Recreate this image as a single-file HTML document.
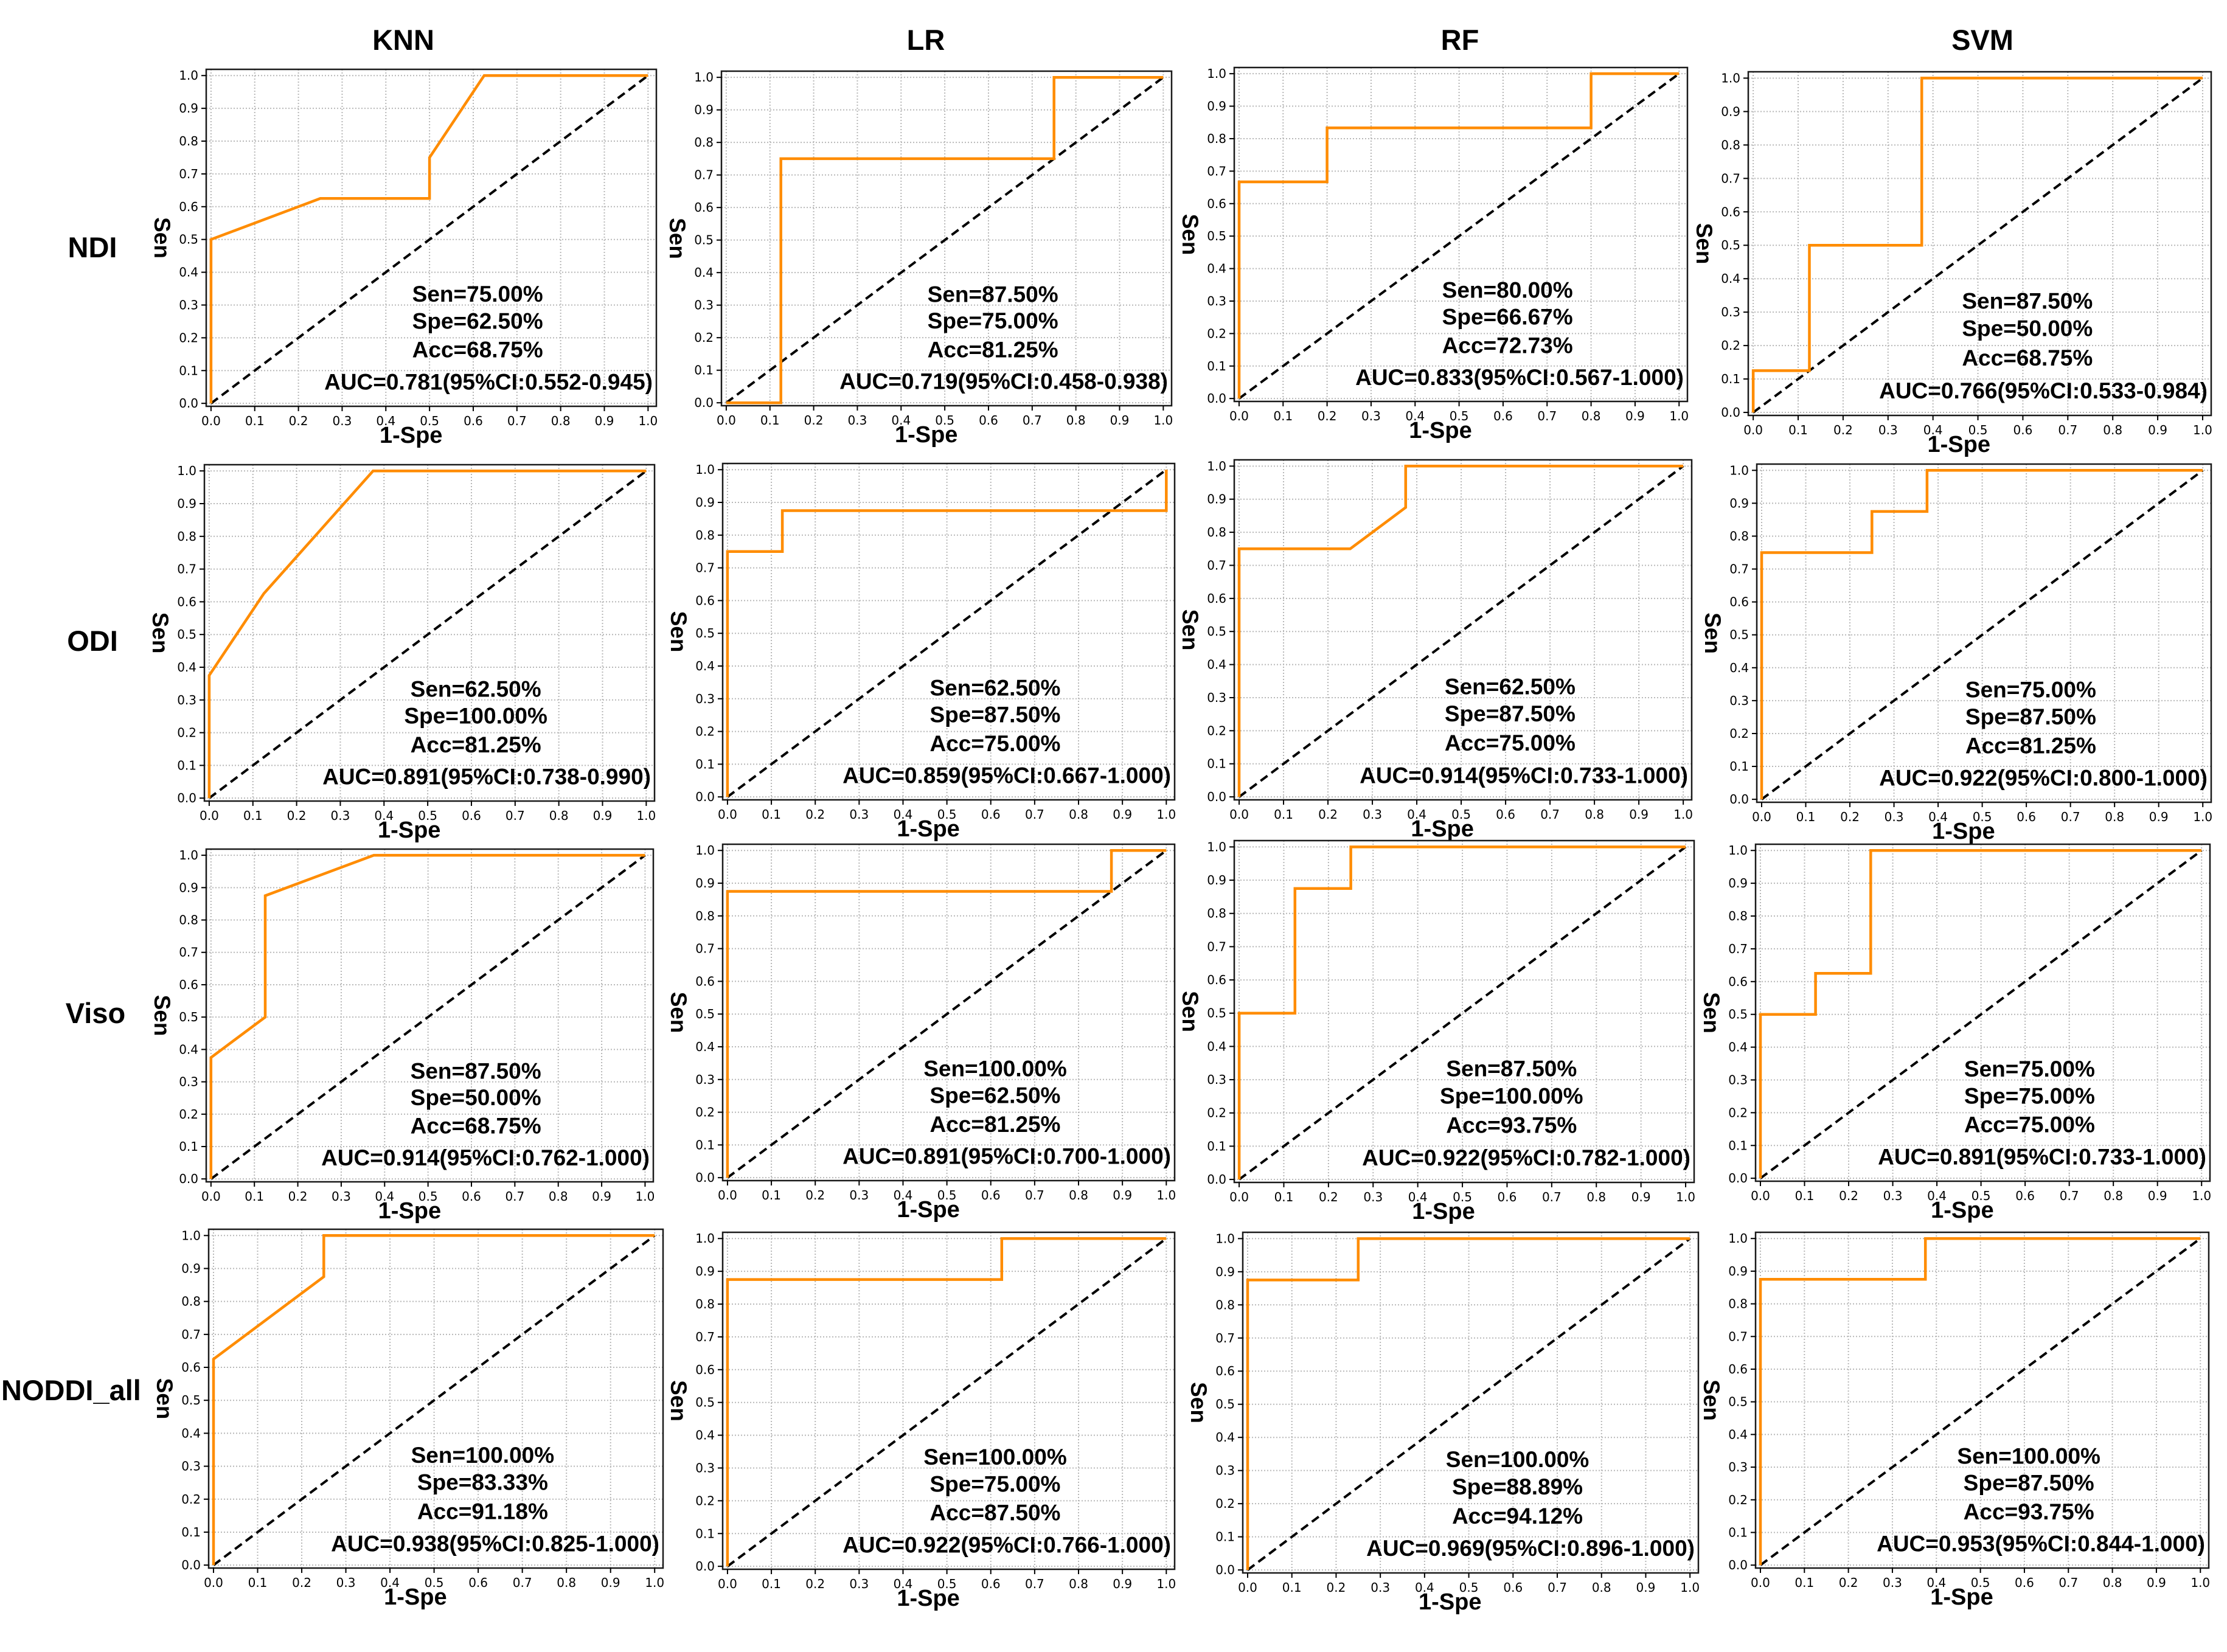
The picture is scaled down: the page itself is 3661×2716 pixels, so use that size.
<!DOCTYPE html>
<html><head><meta charset="utf-8">
<style>
html,body{margin:0;padding:0;background:#fff;}
svg{display:block;}
</style></head>
<body>
<svg id="fig" xmlns="http://www.w3.org/2000/svg" width="3661" height="2716" viewBox="0 0 3661 2716">
<rect x="0" y="0" width="3661" height="2716" fill="#fff"/>
</svg>
<script>
// ---- data ----
const colNames = ["KNN","LR","RF","SVM"];
const rowNames = ["NDI","ODI","Viso","NODDI_all"];
const fprData = [
 [0,0,0.25,0.5,0.5,0.625,1],
 [0,0.125,0.125,0.75,0.75,1],
 [0,0,0.2,0.2,0.8,0.8,1],
 [0,0,0.125,0.125,0.375,0.375,1],
 [0,0,0.125,0.375,1],
 [0,0,0.125,0.125,1,1],
 [0,0,0.25,0.375,0.375,1],
 [0,0,0.25,0.25,0.375,0.375,1],
 [0,0,0.125,0.125,0.375,1],
 [0,0,0.875,0.875,1],
 [0,0,0.125,0.125,0.25,0.25,1],
 [0,0,0.125,0.125,0.25,0.25,1],
 [0,0,0.25,0.25,1],
 [0,0,0.625,0.625,1],
 [0,0,0.25,0.25,1],
 [0,0,0.375,0.375,1]
];
const tprData = [
 [0,0.5,0.625,0.625,0.75,1,1],
 [0,0,0.75,0.75,1,1],
 [0,0.667,0.667,0.833,0.833,1,1],
 [0,0.125,0.125,0.5,0.5,1,1],
 [0,0.375,0.625,1,1],
 [0,0.75,0.75,0.875,0.875,1],
 [0,0.75,0.75,0.875,1,1],
 [0,0.75,0.75,0.875,0.875,1,1],
 [0,0.375,0.5,0.875,1,1],
 [0,0.875,0.875,1,1],
 [0,0.5,0.5,0.875,0.875,1,1],
 [0,0.5,0.5,0.625,0.625,1,1],
 [0,0.625,0.875,1,1],
 [0,0.875,0.875,1,1],
 [0,0.875,0.875,1,1],
 [0,0.875,0.875,1,1]
];
const senText = ["75.00","87.50","80.00","87.50","62.50","62.50","62.50","75.00","87.50","100.00","87.50","75.00","100.00","100.00","100.00","100.00"];
const speText = ["62.50","75.00","66.67","50.00","100.00","87.50","87.50","87.50","50.00","62.50","100.00","75.00","83.33","75.00","88.89","87.50"];
const accText = ["68.75","81.25","72.73","68.75","81.25","75.00","75.00","81.25","68.75","81.25","93.75","75.00","91.18","87.50","94.12","93.75"];
const aucText = ["0.781(95%CI:0.552-0.945)","0.719(95%CI:0.458-0.938)","0.833(95%CI:0.567-1.000)","0.766(95%CI:0.533-0.984)",
 "0.891(95%CI:0.738-0.990)","0.859(95%CI:0.667-1.000)","0.914(95%CI:0.733-1.000)","0.922(95%CI:0.800-1.000)",
 "0.914(95%CI:0.762-1.000)","0.891(95%CI:0.700-1.000)","0.922(95%CI:0.782-1.000)","0.891(95%CI:0.733-1.000)",
 "0.938(95%CI:0.825-1.000)","0.922(95%CI:0.766-1.000)","0.969(95%CI:0.896-1.000)","0.953(95%CI:0.844-1.000)"];
const tickLabels = ["0.0","0.1","0.2","0.3","0.4","0.5","0.6","0.7","0.8","0.9","1.0"];

// ---- layout (pixel frames: left, top, right, bottom) ----
const panelFrames = [
 [339,114,1079,668],[1186,117,1926,667],[2029,111,2774,660],[2874,118,3635,683],
 [336,764,1076,1317],[1188,762,1931,1315],[2029,756,2781,1315],[2888,763,3635,1319],
 [339,1396,1074,1943],[1188,1388,1931,1941],[2029,1382,2785,1944],[2886,1388,3633,1942],
 [343,2021,1090,2578],[1188,2026,1931,2580],[2043,2026,2792,2586],[2886,2026,3631,2578]
];
const colTitleX = [663,1522,2400,3259];
const rowLabelY = [423,1070,1682,2302];
const rowLabelX = [152,152,157,2];
const XMIN=-0.011, XMAX=1.019, YMIN=-0.009, YMAX=1.019;

const NS="http://www.w3.org/2000/svg";
const svg=document.getElementById('fig');
function mk(tag,attrs,parent){const e=document.createElementNS(NS,tag);for(const k in attrs)e.setAttribute(k,attrs[k]);(parent||svg).appendChild(e);return e;}
function txt(s,attrs,parent){const e=mk('text',attrs,parent);e.textContent=s;return e;}

colNames.forEach((c,i)=>{
  const t=txt(c,{x:colTitleX[i],y:82,'text-anchor':'middle','font-family':'"Liberation Sans",sans-serif','font-weight':'bold','font-size':47});
  
  
});
rowNames.forEach((r,i)=>{
  const t=txt(r,{x:rowLabelX[i],y:rowLabelY[i],'text-anchor':i===3?'start':'middle','font-family':'"Liberation Sans",sans-serif','font-weight':'bold','font-size':47});
  
  
});

for(let p=0;p<16;p++){
  const [L,T,R,B]=panelFrames[p];
  const sx=v=>L+(v-XMIN)/(XMAX-XMIN)*(R-L);
  const sy=v=>B-(v-YMIN)/(YMAX-YMIN)*(B-T);
  const g=mk('g',{});
  
  
  const grid=mk('g',{stroke:'#b8b8b8','stroke-width':2,'stroke-dasharray':'2,3'},g);
  
  
  for(let i=0;i<tickLabels.length;i++){
    const v=parseFloat(tickLabels[i]);
    mk('line',{x1:sx(v),x2:sx(v),y1:T,y2:B},grid);
    mk('line',{x1:L,x2:R,y1:sy(v),y2:sy(v)},grid);
  }
  const d=mk('line',{x1:sx(0),y1:sy(0),x2:sx(1),y2:sy(1),stroke:'#000','stroke-width':4,'stroke-dasharray':'14,8'},g);
  
  
  const pts=fprData[p].map((f,i)=>sx(f).toFixed(1)+','+sy(tprData[p][i]).toFixed(1)).join(' ');
  const c=mk('polyline',{points:pts,fill:'none',stroke:'#ff8c00','stroke-width':4.5,'stroke-linejoin':'miter'},g);
  
  
  const fr=mk('rect',{x:L,y:T,width:R-L,height:B-T,fill:'none',stroke:'#1a1a1a','stroke-width':2.5},g);
  
  
  const ticks=mk('g',{},g);
  
  
  for(let i=0;i<tickLabels.length;i++){
    const v=parseFloat(tickLabels[i]);
    mk('line',{x1:sx(v),x2:sx(v),y1:B,y2:B+8,stroke:'#000','stroke-width':2},ticks);
    mk('line',{x1:L-8,x2:L,y1:sy(v),y2:sy(v),stroke:'#000','stroke-width':2},ticks);
    const xt=txt(tickLabels[i],{x:sx(v),y:B+31,'text-anchor':'middle','font-family':'"DejaVu Sans",sans-serif','font-size':20},ticks);
    
    
    const yt=txt(tickLabels[i],{x:L-13,y:sy(v)+7,'text-anchor':'end','font-family':'"DejaVu Sans",sans-serif','font-size':20},ticks);
    
    
  }
  const xl=txt('1-Spe',{x:L+0.455*(R-L),y:B+60,'text-anchor':'middle','font-family':'"Liberation Sans",sans-serif','font-weight':'bold','font-size':38},g);
  
  
  const yx=L-85, yy=(T+B)/2;
  const yl=txt('Sen',{x:yx,y:yy,'text-anchor':'middle','font-family':'"Liberation Sans",sans-serif','font-weight':'bold','font-size':37,transform:'rotate(90 '+yx+' '+yy+')'},g);
  
  
  const cx=sx(0.61);
  const mf={'text-anchor':'middle','font-family':'"Liberation Sans",sans-serif','font-weight':'bold','font-size':37};
  const t1=txt('Sen='+senText[p]+'%',Object.assign({x:cx,y:sy(0.31)},mf),g);
  
  
  const t2=txt('Spe='+speText[p]+'%',Object.assign({x:cx,y:sy(0.228)},mf),g);
  
  
  const t3=txt('Acc='+accText[p]+'%',Object.assign({x:cx,y:sy(0.14)},mf),g);
  
  
  const t4=txt('AUC='+aucText[p],{x:R-6,y:sy(0.042),'text-anchor':'end','font-family':'"Liberation Sans",sans-serif','font-weight':'bold','font-size':37},g);
  
  
}
</script>
</body></html>
